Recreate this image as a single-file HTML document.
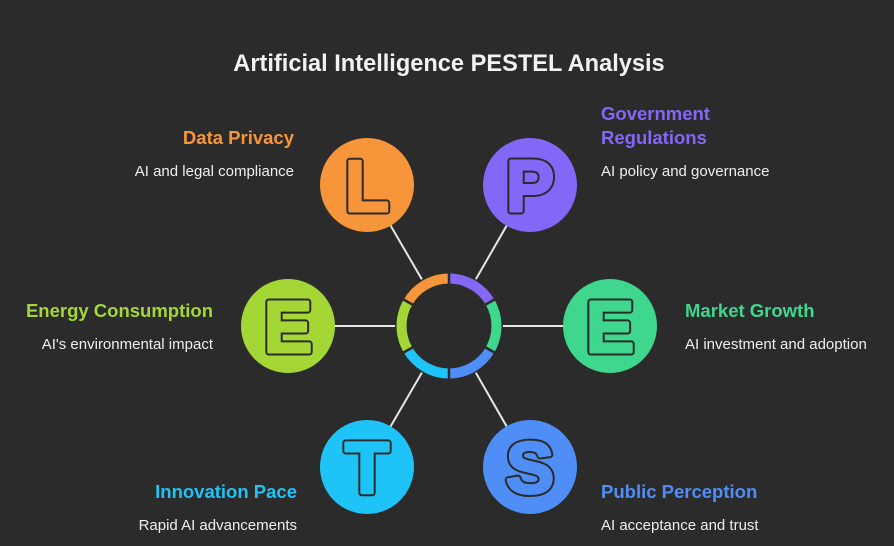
<!DOCTYPE html>
<html><head><meta charset="utf-8"><style>
html,body{margin:0;padding:0;background:#2b2b2b;}
svg{display:block;font-family:"Liberation Sans",sans-serif;}
.lt{font-size:72px;font-weight:bold;text-anchor:middle;stroke-linejoin:round;}
.o{stroke:#2b2b2b;stroke-width:7px;}
</style></head><body>
<svg width="894" height="546" viewBox="0 0 894 546" xmlns="http://www.w3.org/2000/svg">
<rect width="894" height="546" fill="#2b2b2b"/>
<text x="449" y="71" text-anchor="middle" style="font-size:23.6px;font-weight:bold" fill="#f2f2f2">Artificial Intelligence PESTEL Analysis</text>
<g stroke="#e6e6e6" stroke-width="2">
<line x1="449" y1="326" x2="367" y2="185"/>
<line x1="449" y1="326" x2="530" y2="185"/>
<line x1="449" y1="326" x2="288" y2="326"/>
<line x1="449" y1="326" x2="610" y2="326"/>
<line x1="449" y1="326" x2="367" y2="467"/>
<line x1="449" y1="326" x2="530" y2="467"/>
</g>
<circle cx="449" cy="326" r="54" fill="#2b2b2b"/>
<g fill="none" stroke-width="10">
<path d="M407.9,302.25 A47.5,47.5 0 0 1 449,278.5" stroke="#f7953a"/>
<path d="M449,278.5 A47.5,47.5 0 0 1 490.1,302.25" stroke="#8367f7"/>
<path d="M490.1,302.25 A47.5,47.5 0 0 1 490.1,349.75" stroke="#3fd68d"/>
<path d="M490.1,349.75 A47.5,47.5 0 0 1 449,373.5" stroke="#4f8ef7"/>
<path d="M449,373.5 A47.5,47.5 0 0 1 407.9,349.75" stroke="#1ec3f7"/>
<path d="M407.9,349.75 A47.5,47.5 0 0 1 407.9,302.25" stroke="#a4d636"/>
</g>
<g stroke="#2b2b2b" stroke-width="2.5">
<line x1="449" y1="270" x2="449" y2="287"/>
<line x1="449" y1="365" x2="449" y2="382"/>
<line x1="483" y1="306" x2="498" y2="297.5"/>
<line x1="483" y1="346" x2="498" y2="354.5"/>
<line x1="415" y1="306" x2="400" y2="297.5"/>
<line x1="415" y1="346" x2="400" y2="354.5"/>
</g>
<circle cx="367" cy="185" r="47" fill="#f7953a"/>
<circle cx="530" cy="185" r="47" fill="#8367f7"/>
<circle cx="288" cy="326" r="47" fill="#a4d636"/>
<circle cx="610" cy="326" r="47" fill="#3fd68d"/>
<circle cx="367" cy="467" r="47" fill="#1ec3f7"/>
<circle cx="530" cy="467" r="47" fill="#4f8ef7"/>
<g>
<text class="lt o" x="367" y="211" fill="#2b2b2b">L</text>
<text class="lt" x="367" y="211" fill="#f7953a" stroke="#f7953a" stroke-width="3">L</text>
<text class="lt o" x="530" y="211" fill="#2b2b2b">P</text>
<text class="lt" x="530" y="211" fill="#8367f7" stroke="#8367f7" stroke-width="3">P</text>
<text class="lt o" x="288" y="352" fill="#2b2b2b">E</text>
<text class="lt" x="288" y="352" fill="#a4d636" stroke="#a4d636" stroke-width="3">E</text>
<text class="lt o" x="610" y="352" fill="#2b2b2b">E</text>
<text class="lt" x="610" y="352" fill="#3fd68d" stroke="#3fd68d" stroke-width="3">E</text>
<text class="lt o" x="367" y="493" fill="#2b2b2b">T</text>
<text class="lt" x="367" y="493" fill="#1ec3f7" stroke="#1ec3f7" stroke-width="3">T</text>
<text class="lt o" x="530" y="493" fill="#2b2b2b">S</text>
<text class="lt" x="530" y="493" fill="#4f8ef7" stroke="#4f8ef7" stroke-width="3">S</text>
</g>
<g style="font-size:18.5px;font-weight:bold">
<text x="294" y="144" text-anchor="end" fill="#f7953a">Data Privacy</text>
<text x="601" y="120" fill="#8367f7">Government</text>
<text x="601" y="144" fill="#8367f7">Regulations</text>
<text x="213" y="317" text-anchor="end" fill="#a4d636">Energy Consumption</text>
<text x="685" y="317" fill="#3fd68d">Market Growth</text>
<text x="297" y="498" text-anchor="end" fill="#1ec3f7">Innovation Pace</text>
<text x="601" y="498" fill="#4f8ef7">Public Perception</text>
</g>
<g style="font-size:15px" fill="#eeeeee">
<text x="294" y="176" text-anchor="end">AI and legal compliance</text>
<text x="601" y="176">AI policy and governance</text>
<text x="213" y="349" text-anchor="end">AI's environmental impact</text>
<text x="685" y="349">AI investment and adoption</text>
<text x="297" y="530" text-anchor="end">Rapid AI advancements</text>
<text x="601" y="530">AI acceptance and trust</text>
</g>
</svg>
</body></html>
